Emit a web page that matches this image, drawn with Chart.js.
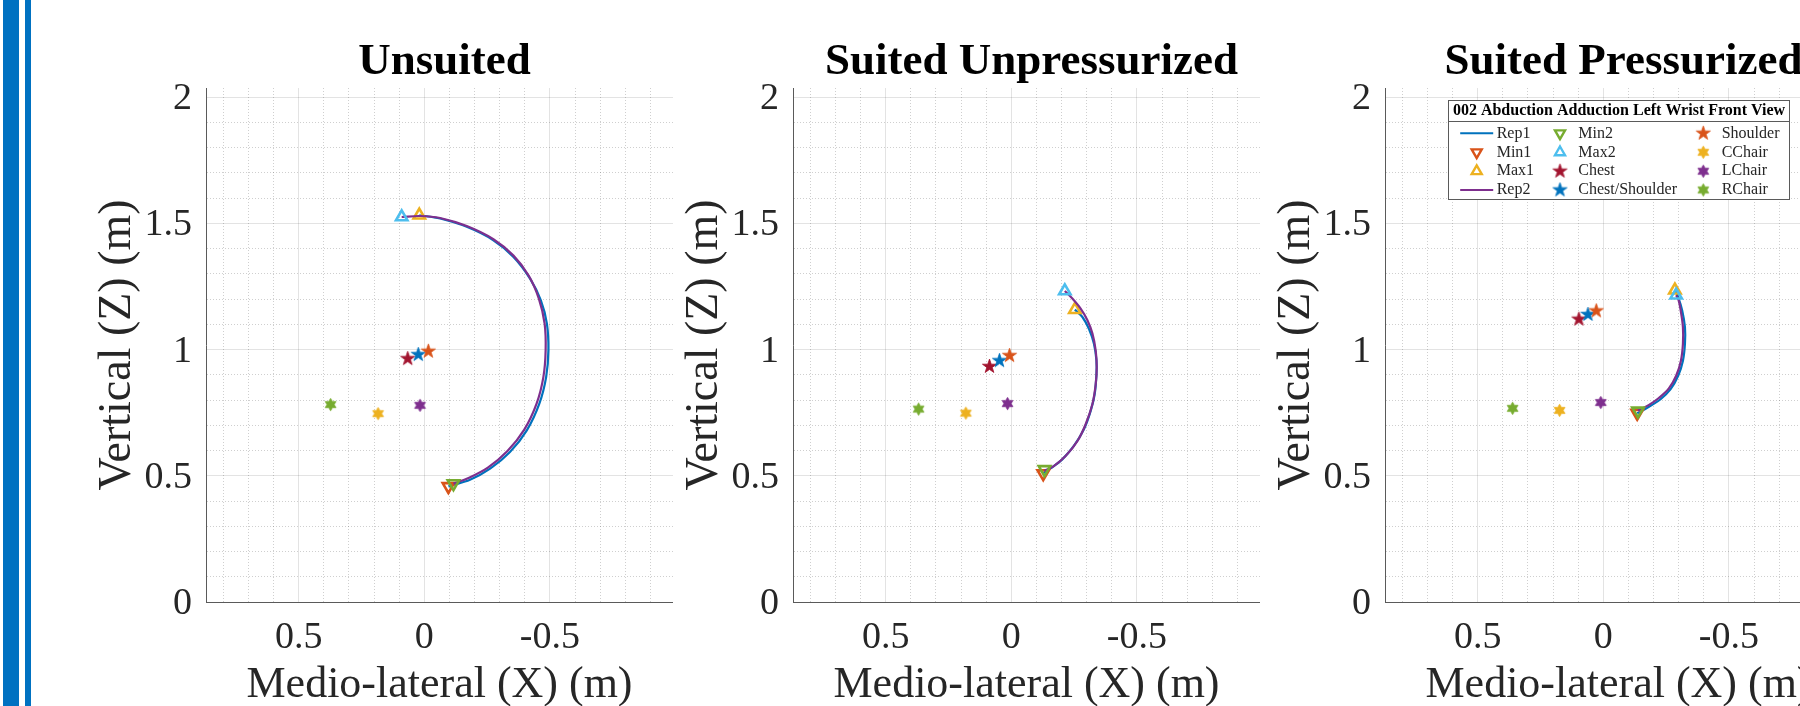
<!DOCTYPE html>
<html>
<head>
<meta charset="utf-8">
<script src="https://cdn.jsdelivr.net/npm/chart.js@4.4.1/dist/chart.umd.min.js"></script>
<style>
html,body{margin:0;padding:0;width:1800px;height:706px;overflow:hidden;background:#fff;}
.stripe{position:absolute;top:0;height:706px;background:#0071c1;}
canvas{position:absolute;top:0;}
</style>
</head>
<body>
<div class="stripe" style="left:3px;width:16px"></div>
<div class="stripe" style="left:25px;width:6px"></div>
<canvas id="c1" width="673" height="706" style="left:0px"></canvas>
<canvas id="c2" width="673" height="706" style="left:587px"></canvas>
<canvas id="c3" width="673" height="706" style="left:1179px"></canvas>
<script>
// ---------------- DATA ----------------
const PANEL_TITLES = ['Unsuited', 'Suited Unpressurized', 'Suited Pressurized'];
const LEGEND_TITLE = '002 Abduction Adduction Left Wrist Front View';
const X_TITLE = 'Medio-lateral (X) (m)';
const Y_TITLE = 'Vertical (Z) (m)';

const X_MIN = -0.99, X_MAX = 0.869;
const Y_MIN = 0, Y_MAX = 2.036;
const X_TICKS = [0.5, 0, -0.5];
const X_TICK_LABELS = ['0.5', '0', '-0.5'];
const X_MINOR = [-0.9, -0.8, -0.7, -0.6, -0.4, -0.3, -0.2, -0.1, 0.1, 0.2, 0.3, 0.4, 0.6, 0.7, 0.8];
const Y_TICKS = [0, 0.5, 1, 1.5, 2];
const Y_TICK_LABELS = ['0', '0.5', '1', '1.5', '2'];
const Y_MINOR = [0.1, 0.2, 0.3, 0.4, 0.6, 0.7, 0.8, 0.9, 1.1, 1.2, 1.3, 1.4, 1.6, 1.7, 1.8, 1.9];

// marker categories (legend order after the Rep lines)
const MARKER_NAMES = ['Min1', 'Max1', 'Min2', 'Max2', 'Chest', 'Chest/Shoulder', 'Shoulder', 'CChair', 'LChair', 'RChair'];

// Unsuited
const U_REP1_X = [0.020, -0.063, -0.169, -0.275, -0.355, -0.421, -0.464, -0.488, -0.494, -0.485, -0.458, -0.408, -0.341, -0.262, -0.182, -0.109, -0.096];
const U_REP1_Y = [1.532, 1.519, 1.486, 1.433, 1.367, 1.281, 1.195, 1.103, 0.997, 0.891, 0.786, 0.680, 0.594, 0.528, 0.484, 0.462, 0.458];
const U_REP2_X = [0.090, 0.017, -0.063, -0.169, -0.275, -0.355, -0.416, -0.456, -0.479, -0.483, -0.474, -0.447, -0.398, -0.331, -0.253, -0.176, -0.116];
const U_REP2_Y = [1.525, 1.529, 1.521, 1.489, 1.437, 1.372, 1.292, 1.202, 1.103, 0.997, 0.891, 0.786, 0.683, 0.598, 0.532, 0.491, 0.469];
const U_MARK_X = [-0.096, 0.020, -0.116, 0.090, 0.066, 0.024, -0.016, 0.184, 0.017, 0.373];
const U_MARK_Y = [0.458, 1.532, 0.469, 1.525, 0.964, 0.980, 0.993, 0.746, 0.779, 0.782];

// Suited Unpressurized
const SU_REP1_X = [-0.253, -0.283, -0.309, -0.329, -0.339, -0.339, -0.332, -0.316, -0.289, -0.249, -0.203, -0.156, -0.127];
const SU_REP1_Y = [1.158, 1.129, 1.082, 1.023, 0.956, 0.903, 0.824, 0.757, 0.684, 0.618, 0.565, 0.529, 0.511];
const SU_REP2_X = [-0.213, -0.243, -0.276, -0.303, -0.323, -0.336, -0.340, -0.336, -0.323, -0.296, -0.263, -0.216, -0.169, -0.132];
const SU_REP2_Y = [1.232, 1.202, 1.162, 1.116, 1.063, 0.996, 0.929, 0.863, 0.784, 0.704, 0.637, 0.578, 0.538, 0.520];
const SU_MARK_X = [-0.127, -0.253, -0.132, -0.213, 0.087, 0.047, 0.007, 0.181, 0.015, 0.369];
const SU_MARK_Y = [0.509, 1.158, 0.525, 1.232, 0.933, 0.956, 0.976, 0.748, 0.786, 0.764];

// Suited Pressurized
const SP_REP1_X = [-0.285, -0.298, -0.314, -0.325, -0.325, -0.317, -0.298, -0.268, -0.228, -0.188, -0.149, -0.135];
const SP_REP1_Y = [1.235, 1.208, 1.155, 1.089, 1.023, 0.956, 0.896, 0.843, 0.803, 0.777, 0.754, 0.748];
const SP_REP2_X = [-0.290, -0.300, -0.308, -0.317, -0.317, -0.309, -0.290, -0.261, -0.221, -0.182, -0.145, -0.138];
const SP_REP2_Y = [1.215, 1.195, 1.155, 1.089, 1.023, 0.956, 0.896, 0.846, 0.808, 0.781, 0.762, 0.757];
const SP_MARK_X = [-0.135, -0.285, -0.138, -0.290, 0.097, 0.061, 0.028, 0.174, 0.010, 0.361];
const SP_MARK_Y = [0.748, 1.235, 0.757, 1.215, 1.120, 1.139, 1.153, 0.759, 0.790, 0.767];

// ---------------- STYLE ----------------
const SERIF = '"Liberation Serif", "Times New Roman", serif';
const TEXT_COLOR = '#262626';
const REP_STYLE = {
  Rep1: { color: '#0072BD' },
  Rep2: { color: '#7E2F8E' }
};
const MARKER_STYLE = {
  'Min1': { color: '#D95319', shape: 'tri', rot: 180 },
  'Max1': { color: '#EDB120', shape: 'tri', rot: 0 },
  'Min2': { color: '#77AC30', shape: 'tri', rot: 180 },
  'Max2': { color: '#4DBEEE', shape: 'tri', rot: 0 },
  'Chest': { color: '#A2142F', shape: 'pent' },
  'Chest/Shoulder': { color: '#0072BD', shape: 'pent' },
  'Shoulder': { color: '#D95319', shape: 'pent' },
  'CChair': { color: '#EDB120', shape: 'hex' },
  'LChair': { color: '#7E2F8E', shape: 'hex' },
  'RChair': { color: '#77AC30', shape: 'hex' }
};

function starCanvas(color, points, outerR, innerR) {
  const size = Math.ceil(outerR * 2 + 4);
  const c = document.createElement('canvas');
  c.width = size; c.height = size;
  const g = c.getContext('2d');
  const cx = size / 2, cy = size / 2;
  g.beginPath();
  for (let k = 0; k < points * 2; k++) {
    const r = (k % 2 === 0) ? outerR : innerR;
    const a = -Math.PI / 2 + k * Math.PI / points;
    const px = cx + r * Math.cos(a), py = cy + r * Math.sin(a);
    if (k === 0) g.moveTo(px, py); else g.lineTo(px, py);
  }
  g.closePath();
  g.fillStyle = color; g.fill();
  g.lineWidth = 0.8; g.strokeStyle = color; g.stroke();
  return c;
}

const starCache = {};
function markerPointStyle(name) {
  const s = MARKER_STYLE[name];
  if (s.shape === 'tri') return 'triangle';
  if (!starCache[name]) {
    starCache[name] = s.shape === 'pent'
      ? starCanvas(s.color, 5, 7.4, 2.9)
      : starCanvas(s.color, 6, 6.2, 3.6);
  }
  return starCache[name];
}

function toPoints(xs, ys) { return xs.map((x, i) => ({ x: x, y: ys[i] })); }

function lineDataset(label, xs, ys) {
  const c = REP_STYLE[label].color;
  return {
    label: label, kind: 'line', data: toPoints(xs, ys), showLine: true,
    borderColor: c, backgroundColor: c, borderWidth: 2.2, tension: 0.35,
    pointRadius: 0, pointHoverRadius: 0, pointHitRadius: 0, fill: false
  };
}

function markerDataset(name, x, y) {
  const s = MARKER_STYLE[name];
  const isTri = s.shape === 'tri';
  return {
    label: name, kind: s.shape, data: [{ x: x, y: y }], showLine: false,
    pointStyle: markerPointStyle(name),
    pointRadius: isTri ? 6.6 : 6,
    pointRotation: isTri ? s.rot : 0,
    pointBorderColor: s.color,
    pointBackgroundColor: isTri ? 'rgba(0,0,0,0)' : s.color,
    borderColor: s.color,
    backgroundColor: isTri ? 'rgba(0,0,0,0)' : s.color,
    pointBorderWidth: isTri ? 2.6 : 0,
    borderWidth: isTri ? 2.6 : 0
  };
}

function buildDatasets(r1x, r1y, r2x, r2y, mx, my) {
  const m = {};
  MARKER_NAMES.forEach((n, i) => { m[n] = markerDataset(n, mx[i], my[i]); });
  const list = [
    lineDataset('Rep1', r1x, r1y), m['Min1'], m['Max1'],
    lineDataset('Rep2', r2x, r2y), m['Min2'], m['Max2'],
    m['Chest'], m['Chest/Shoulder'], m['Shoulder'],
    m['CChair'], m['LChair'], m['RChair']
  ];
  // later series drawn on top (as in the source plot)
  list.forEach((d, i) => { d.order = -i; });
  return list;
}

// ---------------- PLUGINS ----------------
function drawTriangle(ctx, x, y, r, rotDeg) {
  let rad = rotDeg * Math.PI / 180;
  ctx.beginPath();
  ctx.moveTo(x + Math.sin(rad) * r, y - Math.cos(rad) * r);
  rad += 2 * Math.PI / 3;
  ctx.lineTo(x + Math.sin(rad) * r, y - Math.cos(rad) * r);
  rad += 2 * Math.PI / 3;
  ctx.lineTo(x + Math.sin(rad) * r, y - Math.cos(rad) * r);
  ctx.closePath();
}

// nudge the title block slightly right, as in the source figure
const titleNudge = {
  id: 'titleNudge',
  afterLayout(chart) {
    const t = chart.titleBlock;
    if (t) { t.left += 5; t.right += 5; }
  }
};

const boxLegend = {
  id: 'boxLegend',
  afterDraw(chart, args, opts) {
    if (!opts || !opts.show) return;
    const ctx = chart.ctx;
    const b = opts.box;
    ctx.save();
    ctx.fillStyle = '#ffffff';
    ctx.fillRect(b.left, b.top, b.right - b.left, b.bottom - b.top);
    ctx.strokeStyle = '#5a5a5a';
    ctx.lineWidth = 1;
    ctx.strokeRect(b.left + 0.5, b.top + 0.5, b.right - b.left - 1, b.bottom - b.top - 1);
    ctx.beginPath();
    ctx.moveTo(b.left, opts.sepY + 0.5);
    ctx.lineTo(b.right, opts.sepY + 0.5);
    ctx.stroke();
    ctx.fillStyle = '#000';
    ctx.font = 'bold 16px ' + SERIF;
    ctx.textAlign = 'center';
    ctx.textBaseline = 'middle';
    ctx.fillText(opts.title, (b.left + b.right) / 2, opts.titleY);

    chart.data.datasets.forEach((ds, i) => {
      const col = Math.floor(i / 4), row = i % 4;
      const mx = opts.markerX[col], tx = opts.textX[col], y = opts.rowY[row];
      if (ds.kind === 'line') {
        ctx.strokeStyle = ds.borderColor; ctx.lineWidth = 2;
        ctx.beginPath(); ctx.moveTo(mx - 16.5, y); ctx.lineTo(mx + 16.5, y); ctx.stroke();
      } else if (ds.kind === 'tri') {
        ctx.strokeStyle = ds.pointBorderColor; ctx.lineWidth = 2.4;
        drawTriangle(ctx, mx, y, 5.8, ds.pointRotation);
        ctx.stroke();
      } else {
        const img = ds.pointStyle;
        ctx.drawImage(img, mx - img.width / 2, y - img.height / 2);
      }
      ctx.fillStyle = TEXT_COLOR;
      ctx.font = '16px ' + SERIF;
      ctx.textAlign = 'left';
      ctx.textBaseline = 'middle';
      ctx.fillText(ds.label, tx, y);
    });
    ctx.restore();
  }
};

// ---------------- CHARTS ----------------
function isIn(v, arr) { return arr.some(a => Math.abs(a - v) < 1e-9); }
const MAJOR_GRID = 'rgba(38,38,38,0.13)';
const MINOR_GRID = 'rgba(38,38,38,0.22)';

function axisCommon(major, labels, minor, isX) {
  const all = major.concat(minor).slice().sort((a, b) => a - b);
  return {
    type: 'linear',
    afterBuildTicks: (axis) => { axis.ticks = all.map(v => ({ value: v })); },
    ticks: {
      autoSkip: false, maxRotation: 0, minRotation: 0,
      color: TEXT_COLOR,
      font: { family: SERIF, size: 38, lineHeight: isX ? 1.905 : 1.2 },
      padding: isX ? 0 : 14,
      labelOffset: isX ? 0 : 2,
      callback: (v) => {
        const i = major.findIndex(a => Math.abs(a - v) < 1e-9);
        return i >= 0 ? labels[i] : '';
      }
    },
    grid: {
      drawTicks: false, tickLength: 0, lineWidth: 1,
      color: (c) => (c.tick && !isIn(c.tick.value, major)) ? MINOR_GRID : MAJOR_GRID
    },
    border: {
      display: true, color: '#5a5a5a', width: 1,
      dash: (c) => (c.tick && !isIn(c.tick.value, major)) ? [1, 2] : []
    },
    title: {
      display: true, color: TEXT_COLOR,
      text: isX ? X_TITLE : Y_TITLE,
      font: { family: SERIF, size: isX ? 44 : 46, lineHeight: 0.95 },
      padding: isX ? { top: 0, bottom: 0 } : { top: 96, bottom: 0 }
    }
  };
}

function makeChart(id, title, datasets, legendOpts) {
  const xs = axisCommon(X_TICKS, X_TICK_LABELS, X_MINOR, true);
  xs.reverse = true; xs.min = X_MIN; xs.max = X_MAX;
  xs.afterFit = (s) => { s.height = 104; };
  const ys = axisCommon(Y_TICKS, Y_TICK_LABELS, Y_MINOR, false);
  ys.min = Y_MIN; ys.max = Y_MAX;
  ys.afterFit = (s) => { s.width = 206; };
  return new Chart(document.getElementById(id), {
    type: 'scatter',
    data: { datasets: datasets },
    options: {
      responsive: false, animation: false, devicePixelRatio: 1,
      layout: { padding: 0, autoPadding: false },
      events: [],
      plugins: {
        legend: { display: false },
        tooltip: { enabled: false },
        title: {
          display: true, text: title, fullSize: false, color: '#000',
          font: { family: SERIF, size: 45, weight: 'bold', lineHeight: 1 },
          padding: { top: 40, bottom: 3 }
        },
        boxLegend: legendOpts
      },
      scales: { x: xs, y: ys }
    },
    plugins: [titleNudge, boxLegend]
  });
}

function drawAll() {
  makeChart('c1', PANEL_TITLES[0],
    buildDatasets(U_REP1_X, U_REP1_Y, U_REP2_X, U_REP2_Y, U_MARK_X, U_MARK_Y), { show: false });
  makeChart('c2', PANEL_TITLES[1],
    buildDatasets(SU_REP1_X, SU_REP1_Y, SU_REP2_X, SU_REP2_Y, SU_MARK_X, SU_MARK_Y), { show: false });
  makeChart('c3', PANEL_TITLES[2],
    buildDatasets(SP_REP1_X, SP_REP1_Y, SP_REP2_X, SP_REP2_Y, SP_MARK_X, SP_MARK_Y), {
      show: true, title: LEGEND_TITLE,
      box: { left: 269, top: 100, right: 611, bottom: 200 },
      titleY: 111.3, sepY: 121,
      markerX: [297.7, 381, 524.3],
      textX: [317.7, 399.3, 542.7],
      rowY: [133.3, 152.3, 171.2, 190]
    });
}

if (document.fonts && document.fonts.load) {
  Promise.all([
    document.fonts.load('44px "Liberation Serif"'),
    document.fonts.load('bold 44px "Liberation Serif"')
  ]).then(drawAll, drawAll);
} else {
  drawAll();
}
</script>
</body>
</html>
